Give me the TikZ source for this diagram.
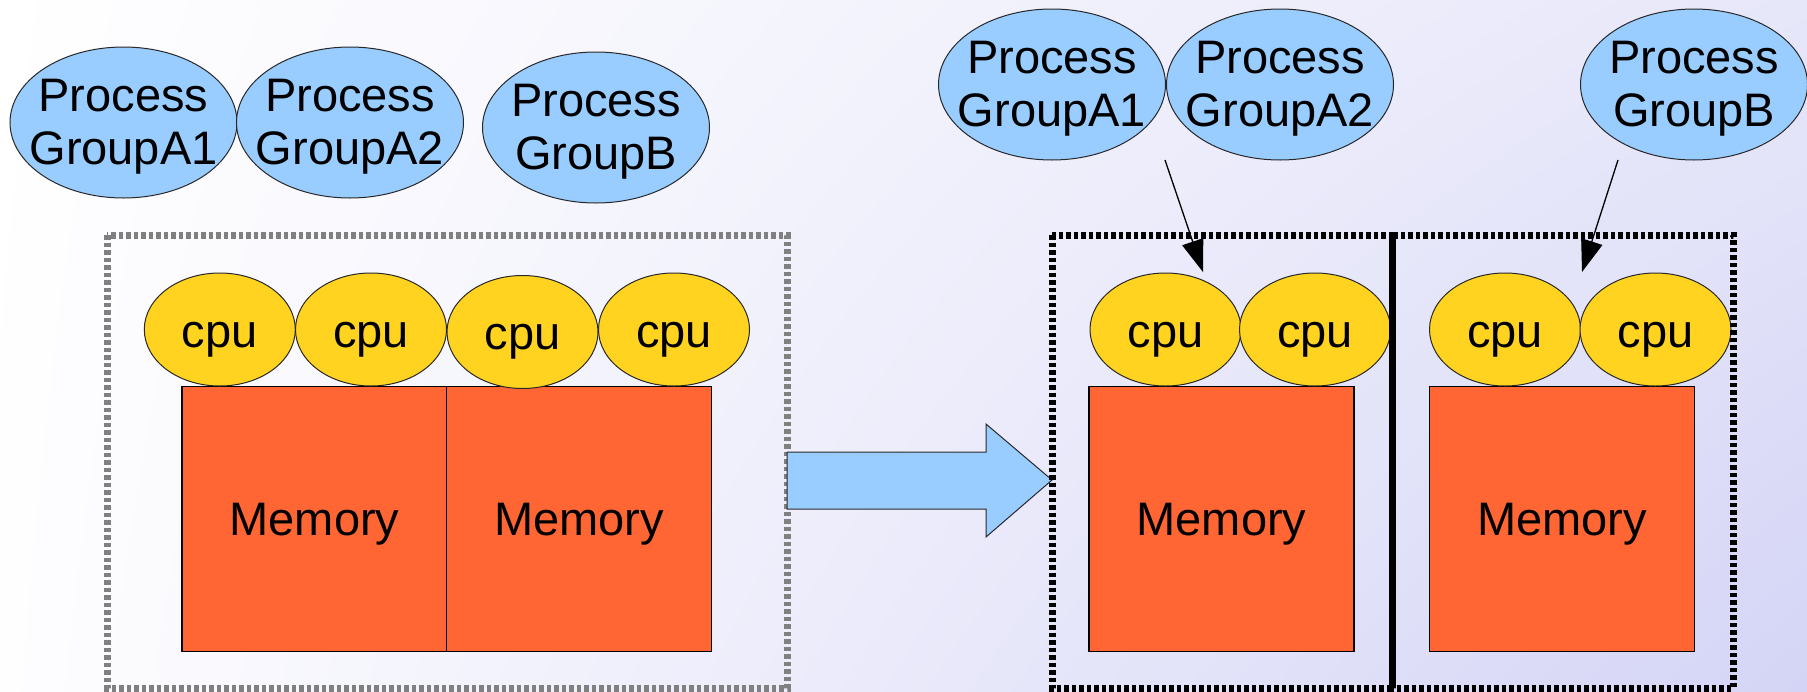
\documentclass[tikz,border=0pt]{standalone}
\usepackage{fontspec}
\setmainfont{Liberation Sans}
\usetikzlibrary{shapes.geometric,arrows.meta,shadings}
\definecolor{procblue}{RGB}{153,204,255}
\definecolor{cpuyellow}{RGB}{255,211,32}
\definecolor{memorange}{RGB}{255,102,51}
\definecolor{boxgray}{RGB}{128,128,128}
\definecolor{outline}{RGB}{40,40,40}
\definecolor{bgUR}{RGB}{231,231,250}
\definecolor{bgLL}{RGB}{254,254,255}
\definecolor{bgLR}{RGB}{212,212,246}

\begin{document}
\begin{tikzpicture}[x=1pt,y=-1pt,
  every node/.style={font=\fontsize{47}{53}\selectfont, inner sep=0pt, outer sep=0pt},
  every label/.style={inner sep=0pt, outer sep=0pt},
  proc/.style={ellipse, draw=outline, line width=1pt, fill=procblue,
               minimum width=227pt, minimum height=151pt},
  proctext/.style={align=center},
  cpu/.style={ellipse, draw=outline, line width=1pt, fill=cpuyellow,
              minimum width=151pt, minimum height=113pt,
              label={[yshift=-10pt]center:cpu}},
  mem/.style={rectangle, draw=black, line width=1.5pt, fill=memorange,
              minimum width=265pt, minimum height=265pt,
              label={[yshift=-5pt]center:Memory}},
  nodebox/.style={line width=7pt, dash pattern=on 4.5pt off 3pt},
  link/.style={draw=black, line width=1.3pt, -{Triangle[length=32pt,width=22pt]}}
]

% background
\shade[upper left=white, upper right=bgUR, lower left=bgLL, lower right=bgLR]
  (0,0) rectangle (1807,691);
\useasboundingbox (0,0) rectangle (1807,691);

% ---------- single node, before the split ----------
\node[proc] (la1) at (123.5,122.5) {};
\node[proctext] (la1t) at (123.5,127) {Process\\GroupA1};
\node[proc] (la2) at (350,122.5) {};
\node[proctext] (la2t) at (350,127) {Process\\GroupA2};
\node[proc] (lb) at (596,127.5) {};
\node[proctext] (lbt) at (596,132) {Process\\GroupB};

\node[mem] (lm1) at (314.5,519) {};
\node[mem] (lm2) at (579,519) {};
\node[cpu] (lc1) at (219.8,329.5) {};
\node[cpu] (lc2) at (371,329.5) {};
\node[cpu] (lc3) at (522.5,332) {};
\node[cpu] (lc4) at (674,329.5) {};

\draw[nodebox, draw=boxgray] (107,235) rectangle (787,688);

% transition arrow
\draw[fill=procblue, draw=outline, line width=1pt, line join=miter]
  (787,452) -- (986,452) -- (986,424) -- (1052,480) -- (986,537) -- (986,509) -- (787,509) -- cycle;

% ---------- two nodes, after the split ----------
\node[proc] (ra1) at (1052,84.5) {};
\node[proctext] (ra1t) at (1052,89) {Process\\GroupA1};
\node[proc] (ra2) at (1280,84.5) {};
\node[proctext] (ra2t) at (1280,89) {Process\\GroupA2};
\node[proc] (rb) at (1694,84.5) {};
\node[proctext] (rbt) at (1694,89) {Process\\GroupB};

\node[mem] (rm1) at (1221.5,519) {};
\node[mem] (rm2) at (1562,519) {};
\node[cpu] (rc1) at (1165.5,329.5) {};
\node[cpu] (rc2) at (1315,329.5) {};
\node[cpu] (rc3) at (1505,329.5) {};
\node[cpu] (rc4) at (1655.5,329.5) {};

\draw[nodebox] (1052,235) rectangle (1392,688);
\draw[nodebox] (1392,235) rectangle (1733,688);

% process groups bound to their nodes
\coordinate (afrom) at (1165,160);
\coordinate (ato) at (1203,272);
\coordinate (bfrom) at (1618,160);
\coordinate (bto) at (1582,272);
\draw[link] (afrom) -- (ato);
\draw[link] (bfrom) -- (bto);
\end{tikzpicture}
\end{document}
